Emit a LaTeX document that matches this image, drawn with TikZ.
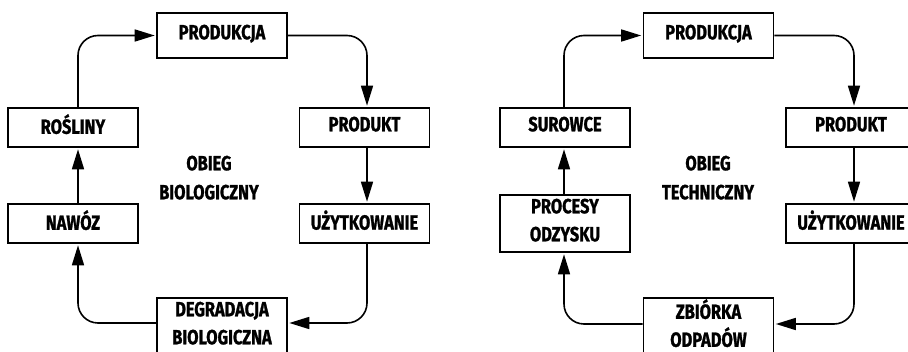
\documentclass[tikz,border=0pt]{standalone}
\usepackage{fontspec}
\setmainfont{Fira Sans}[FakeStretch=0.8, BoldFeatures={FakeBold=1.2}]
\usetikzlibrary{arrows.meta}
\newcommand\Lstr{\rule[-7pt]{0pt}{21pt}}
\tikzset{
  box/.style={draw, line width=1.6pt, minimum width=130pt, minimum height=39pt, inner sep=0pt,
    font=\bfseries\fontsize{20.5}{28}\selectfont, align=center},
  tallbox/.style={box, minimum height=57pt},
  topbox/.style={box, minimum height=45pt},
  lbl/.style={font=\bfseries\fontsize{20.5}{29}\selectfont, align=center, inner sep=0pt},
  conn/.style={line width=1.6pt, rounded corners=20pt, -{Triangle[length=20pt,width=12pt]}, shorten >=1.5pt}
}
\begin{document}
\begin{tikzpicture}[x=1pt,y=-1pt]
\useasboundingbox (0,0) rectangle (908,352);
\clip (0,0) rectangle (908,352);
% left cycle
\node[topbox] (prodL) at (222,35.5) {\Lstr PRODUKCJA};
\node[box] (rosL) at (73,127.5) {\Lstr ROŚLINY};
\node[box] (prdL) at (364.5,127.5) {\Lstr PRODUKT};
\node[box] (nawL) at (73,223.5) {\Lstr NAWÓZ};
\node[box] (uzyL) at (364.5,223.5) {\Lstr UŻYTKOWANIE};
\node[tallbox] (degL) at (222,326.5) {\Lstr DEGRADACJA\\\Lstr BIOLOGICZNA};
\node[lbl] (obL) at (209,181) {\Lstr OBIEG\\\Lstr BIOLOGICZNY};
\draw[conn] ([xshift=5pt]rosL.north) |- (prodL.west);
\draw[conn] (prodL.east) -| ([xshift=2.5pt]prdL.north);
\draw[conn] ([xshift=2.5pt]prdL.south) -- ([xshift=2.5pt]uzyL.north);
\draw[conn] ([xshift=2.5pt]uzyL.south) |- ([yshift=3.5pt]degL.east);
\draw[conn] ([yshift=3.5pt]degL.west) -| ([xshift=5pt]nawL.south);
\draw[conn] ([xshift=5pt]nawL.north) -- ([xshift=5pt]rosL.south);
% right cycle
\node[topbox] (prodR) at (708.5,35.5) {\Lstr PRODUKCJA};
\node[box] (surR) at (565,127.5) {\Lstr SUROWCE};
\node[box] (prdR) at (851,127.5) {\Lstr PRODUKT};
\node[tallbox] (procR) at (565,223.5) {\Lstr PROCESY\\\Lstr ODZYSKU};
\node[box] (uzyR) at (851,223.5) {\Lstr UŻYTKOWANIE};
\node[tallbox] (zbiR) at (708.5,326.5) {\Lstr ZBIÓRKA\\\Lstr ODPADÓW};
\node[lbl] (obR) at (708,181) {\Lstr OBIEG\\\Lstr TECHNICZNY};
\draw[conn] ([xshift=-1pt]surR.north) |- (prodR.west);
\draw[conn] (prodR.east) -| ([xshift=3pt]prdR.north);
\draw[conn] ([xshift=3pt]prdR.south) -- ([xshift=3pt]uzyR.north);
\draw[conn] ([xshift=3pt]uzyR.south) |- ([yshift=2.5pt]zbiR.east);
\draw[conn] ([yshift=2.5pt]zbiR.west) -| ([xshift=-1pt]procR.south);
\draw[conn] ([xshift=-1pt]procR.north) -- ([xshift=-1pt]surR.south);
\end{tikzpicture}
\end{document}
